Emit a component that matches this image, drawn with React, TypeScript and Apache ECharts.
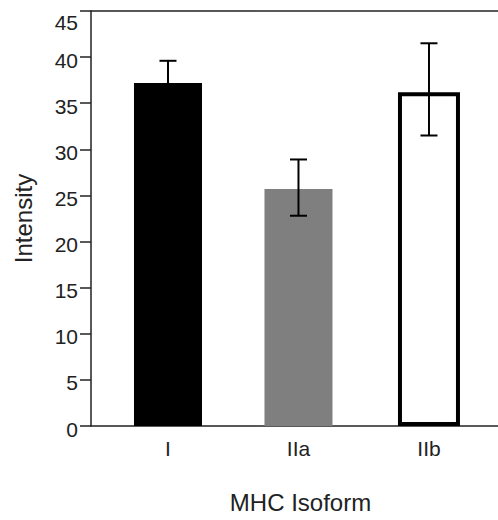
import React, { useEffect, useRef } from "react";
import * as echarts from "echarts";

const categories = ["I", "IIa", "IIb"];
const positions = [1, 2, 3];
const means = [37.2, 25.7, 36.2];
const errLow = [34.8, 22.8, 31.5];
const errHigh = [39.6, 28.9, 41.5];
const fills = ["#000000", "#7f7f7f", "#ffffff"];
const outlined = [false, false, true];
const yTicks = [0, 5, 10, 15, 20, 25, 30, 35, 40, 45];

const FONT = "'Liberation Sans', Arial, sans-serif";
const AXIS_COLOR = "#222";

export default function App() {
  const ref = useRef<HTMLDivElement>(null);
  useEffect(() => {
    if (!ref.current) return;
    const chart = echarts.init(ref.current, undefined, { renderer: "svg" });
    const xMin = 0.41;
    const xMax = 3.529;
    const solidData = positions.map((p, i) =>
      outlined[i] ? null : { value: [p, means[i]], itemStyle: { color: fills[i] } }
    ).filter(Boolean);
    const outlineData = positions.map((p, i) =>
      outlined[i]
        ? { value: [p, means[i]], itemStyle: { color: fills[i], borderColor: "#000", borderWidth: 4 } }
        : null
    ).filter(Boolean);
    const errData = positions.map((p, i) => [p, errLow[i], errHigh[i]]);

    chart.setOption({
      animation: false,
      backgroundColor: "#ffffff",
      grid: { left: 91, right: 0, top: 11, bottom: 94, containLabel: false },
      xAxis: [
        {
          type: "value",
          min: xMin,
          max: xMax,
          splitLine: { show: false },
          axisLine: { show: true, onZero: false, lineStyle: { color: AXIS_COLOR, width: 1.5 } },
          axisTick: { show: false },
          axisLabel: {
            customValues: positions,
            formatter: (v: number) => categories[positions.indexOf(v)] ?? "",
            fontSize: 21,
            color: AXIS_COLOR,
            fontFamily: FONT,
            margin: 12,
          },
          name: "MHC Isoform",
          nameLocation: "middle",
          nameGap: 64,
          nameTextStyle: { fontSize: 24, color: AXIS_COLOR, fontFamily: FONT, padding: [0, 0, 0, 12] },
        },
        {
          type: "value",
          position: "top",
          min: xMin,
          max: xMax,
          splitLine: { show: false },
          axisLine: { show: true, onZero: false, lineStyle: { color: AXIS_COLOR, width: 1.5 } },
          axisTick: { show: false },
          axisLabel: { show: false },
        },
      ],
      yAxis: {
        type: "value",
        min: 0,
        max: 45,
        interval: 5,
        splitLine: { show: false },
        axisLine: { show: true, lineStyle: { color: AXIS_COLOR, width: 1.5 } },
        axisTick: { show: true, length: 11, lineStyle: { color: AXIS_COLOR, width: 1.5 } },
        axisLabel: {
          fontSize: 21,
          color: AXIS_COLOR,
          fontFamily: FONT,
          margin: 13,
          formatter: (v: number) => (v === yTicks[yTicks.length - 1] ? "{t|" + v + "}" : "{n|" + v + "}"),
          rich: {
            t: { fontSize: 21, fontFamily: FONT, color: AXIS_COLOR, padding: [22, 0, 0, 0] },
            n: { fontSize: 21, fontFamily: FONT, color: AXIS_COLOR, padding: [6, 0, 0, 0] },
          },
        },
        name: "Intensity",
        nameLocation: "middle",
        nameGap: 56,
        nameTextStyle: { fontSize: 24, color: AXIS_COLOR, fontFamily: FONT },
      },
      series: [
        {
          type: "bar",
          xAxisIndex: 0,
          barWidth: 68,
          data: solidData,
          z: 2,
        },
        {
          type: "bar",
          xAxisIndex: 1,
          barWidth: 62,
          data: outlineData,
          z: 2,
        },
        {
          type: "custom",
          xAxisIndex: 0,
          z: 5,
          data: errData,
          renderItem: (params: any, api: any) => {
            const x = api.value(0);
            const lo = api.coord([x, api.value(1)]);
            const hi = api.coord([x, api.value(2)]);
            const half = 8.5;
            const style = { stroke: "#000", lineWidth: 2 };
            return {
              type: "group",
              children: [
                { type: "line", shape: { x1: hi[0], y1: hi[1], x2: lo[0], y2: lo[1] }, style },
                { type: "line", shape: { x1: hi[0] - half, y1: hi[1], x2: hi[0] + half, y2: hi[1] }, style },
                { type: "line", shape: { x1: lo[0] - half, y1: lo[1], x2: lo[0] + half, y2: lo[1] }, style },
              ],
            };
          },
        },
      ],
    });
    return () => chart.dispose();
  }, []);
  return (
    <div
      ref={ref}
      style={{ position: "absolute", left: 0, top: 0, width: 498, height: 520 }}
    />
  );
}
